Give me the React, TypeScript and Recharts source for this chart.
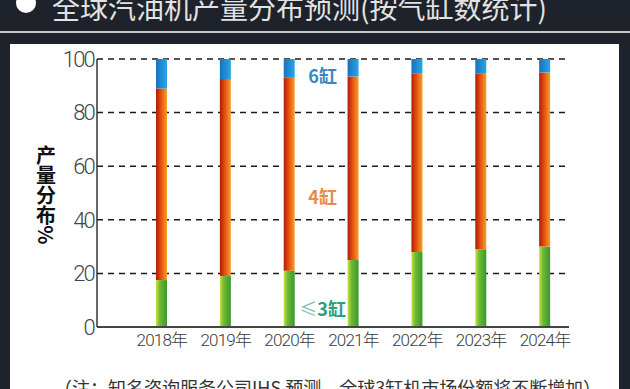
import { BarChart, Bar, XAxis, YAxis, CartesianGrid, ReferenceDot } from "recharts"

const years = ["2018年", "2019年", "2020年", "2021年", "2022年", "2023年", "2024年"]
const threeCyl = [17.5, 19, 21, 25, 28, 29, 30]
const fourCyl = [71.5, 73.5, 72, 68.5, 66.5, 65.5, 65]
const sixCyl = [11, 7.5, 7, 6.5, 5.5, 5.5, 5]
const yTicks = [0, 20, 40, 60, 80, 100]

const data = years.map((year, i) => ({
    year,
    three: threeCyl[i],
    four: fourCyl[i],
    six: sixCyl[i],
}))

const cjk = "'Noto Sans CJK SC', 'Noto Sans', sans-serif"
const thin = "Roboto, 'Noto Sans CJK SC', sans-serif"

// series names drawn inside the plot, next to the 2020 bar
function SeriesTag({ viewBox, text, color, small }: any) {
    const x = viewBox.x + viewBox.width / 2 + 33
    const y = viewBox.y + viewBox.height / 2
    return (
        <text x={x} y={y} textAnchor="middle" dominantBaseline="central"
            fontFamily={cjk} fontSize={18} fontWeight={700} fill={color}>
            {small ? <tspan fill="#86bdb4" fontWeight={400}>≤</tspan> : null}
            {text}
        </text>
    )
}

function YLabel({ viewBox }: any) {
    const x = viewBox.x - 11
    const y = viewBox.y + viewBox.height / 2 + 2
    return (
        <text x={x} y={y} textAnchor="middle" fontFamily={cjk} fontSize={20} fontWeight={700}
            fill="#111" style={{ writingMode: "vertical-rl" } as any}>
            产量分布%
        </text>
    )
}

export default function App() {
    return (
        <div style={{ position: "absolute", left: 0, top: 0, width: 630, height: 389, overflow: "hidden", background: "#1d222b" }}>
            <div style={{ position: "absolute", left: 15.5, top: -7, width: 20, height: 20, borderRadius: "50%", background: "#fff" }} />
            <div style={{ position: "absolute", left: 52, top: -7, fontFamily: cjk, fontSize: 28, lineHeight: "28px", color: "#e2e2e2", whiteSpace: "nowrap" }}>
                全球汽油机产量分布预测(按气缸数统计)
            </div>
            <div style={{ position: "absolute", left: 0, top: 31, width: 630, height: 2, background: "#c9c9c9" }} />
            <div style={{ position: "absolute", left: 10, top: 44, width: 609, height: 360, background: "#fff" }} />
            <div style={{ position: "absolute", left: 54, top: 378, fontFamily: cjk, fontSize: 18, lineHeight: "18px", color: "#333", whiteSpace: "nowrap" }}>
                （注：知名咨询服务公司IHS 预测，全球3缸机市场份额将不断增加）
            </div>
            <div style={{ position: "absolute", left: 0, top: 0 }}>
                <BarChart width={630} height={389} data={data} margin={{ top: 59, right: 61, bottom: 32, left: 57 }}>
                    <defs>
                        <linearGradient id="gGreen" x1="0" y1="0" x2="1" y2="0">
                            <stop offset="0%" stopColor="#cde03c" />
                            <stop offset="35%" stopColor="#6dbb34" />
                            <stop offset="100%" stopColor="#3a982c" />
                        </linearGradient>
                        <linearGradient id="gOrange" x1="0" y1="0" x2="1" y2="0">
                            <stop offset="0%" stopColor="#b01c06" />
                            <stop offset="45%" stopColor="#e4500e" />
                            <stop offset="100%" stopColor="#f7a02c" />
                        </linearGradient>
                        <linearGradient id="gBlue" x1="0" y1="0" x2="1" y2="0">
                            <stop offset="0%" stopColor="#1672c0" />
                            <stop offset="100%" stopColor="#2aa6e6" />
                        </linearGradient>
                    </defs>
                    <CartesianGrid vertical={false} stroke="#1a1a1a" strokeWidth={1.5} strokeDasharray="6 5" />
                    <XAxis
                        dataKey="year"
                        height={30}
                        padding={{ left: 33, right: -8 }}
                        tickLine={false}
                        tickSize={0}
                        tickMargin={7}
                        axisLine={{ stroke: "#444", strokeWidth: 2 }}
                        tick={{ fill: "#3a3a3a", fontSize: 17, fontFamily: thin, fontWeight: 300, letterSpacing: -0.8 }}
                    />
                    <YAxis
                        width={40}
                        domain={[0, 100]}
                        ticks={yTicks}
                        interval={0}
                        tickLine={false}
                        tickSize={0}
                        tickMargin={3}
                        axisLine={{ stroke: "#333", strokeWidth: 1.5 }}
                        tick={{ fill: "#444", fontSize: 22, fontFamily: thin, fontWeight: 300, letterSpacing: -1.8 }}
                        label={<YLabel />}
                    />
                    <Bar dataKey="three" stackId="a" fill="url(#gGreen)" barSize={11} isAnimationActive={false} />
                    <Bar dataKey="four" stackId="a" fill="url(#gOrange)" barSize={11} isAnimationActive={false} />
                    <Bar dataKey="six" stackId="a" fill="url(#gBlue)" barSize={11} isAnimationActive={false} />
                    <ReferenceDot x="2020年" y={94} r={0} fill="none" stroke="none"
                        label={<SeriesTag text="6缸" color="#3b86c2" />} />
                    <ReferenceDot x="2020年" y={49} r={0} fill="none" stroke="none"
                        label={<SeriesTag text="4缸" color="#e9894a" />} />
                    <ReferenceDot x="2020年" y={7} r={0} fill="none" stroke="none"
                        label={<SeriesTag text="3缸" color="#2e9e7a" small />} />
                </BarChart>
            </div>
        </div>
    )
}
